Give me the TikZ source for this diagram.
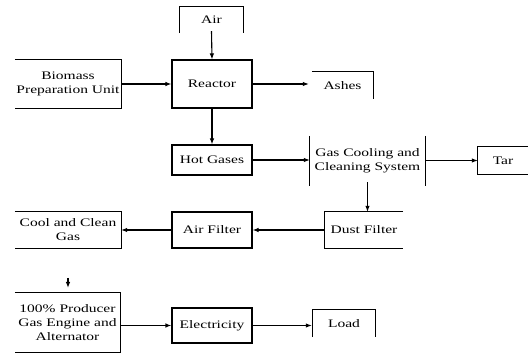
\documentclass[tikz,border=0pt]{standalone}
\usepackage{fontspec}
\setmainfont{Liberation Serif}[FakeStretch=1.35]
\usetikzlibrary{arrows.meta}
\begin{document}
\begin{tikzpicture}[x=1pt,y=-1pt,
  lbl/.style={inner sep=0pt,align=center,font=\fontsize{11.5}{14}\selectfont},
  box/.style={lbl,draw,line width=1.1pt,minimum width=#1},
  bord/.style={draw,line width=1.1pt},
  arr/.style={line width=1.1pt,-{Latex[length=6pt,width=4.5pt]}}]
\useasboundingbox (0,0) rectangle (528,358);
% full boxes
\node[box=80pt,minimum height=48pt] (reactor) at (212,84) {Reactor};
\node[box=80pt,minimum height=30pt] (hot) at (212,160) {Hot Gases};
\node[box=80pt,minimum height=36pt] (airf) at (212,230) {Air Filter};
\node[box=80pt,minimum height=35pt] (elec) at (212,325.5) {Electricity};
% partial boxes
\node[lbl,minimum width=63pt,minimum height=26pt] (air) at (211.5,20) {Air};
\draw[bord] (air.south west) -- (air.north west) -- (air.north east) -- (air.south east);
\node[lbl,minimum width=106pt,minimum height=48pt] (bio) at (68,84) {Biomass\\Preparation Unit};
\draw[bord] (bio.north west) -- (bio.north east) -- (bio.south east) -- (bio.south west);
\node[lbl,minimum width=61pt,minimum height=27pt] (ash) at (342.5,85.5) {Ashes};
\draw[bord] (ash.north west) -- (ash.north east) -- (ash.south east);
\node[lbl,minimum width=115pt,minimum height=50pt] (gcc) at (367.5,161) {Gas Cooling and\\Cleaning System};
\draw[bord] (gcc.north west) -- (gcc.south west);
\draw[bord] (gcc.north east) -- (gcc.south east);
\node[lbl,minimum width=50pt,minimum height=27pt] (tar) at (503,160.5) {Tar};
\draw[bord] (tar.north east) -- (tar.north west) -- (tar.south west) -- (tar.south east);
\node[lbl,minimum width=78pt,minimum height=36pt] (dust) at (364,230) {Dust Filter};
\draw[bord] (dust.north east) -- (dust.north west) -- (dust.south west) -- (dust.south east);
\node[lbl,minimum width=106pt,minimum height=36pt] (cool) at (68,230) {Cool and Clean\\Gas};
\draw[bord] (cool.north west) -- (cool.north east) -- (cool.south east) -- (cool.south west);
\node[lbl,minimum width=105pt,minimum height=59pt] (prod) at (67.5,322.5) {100\% Producer\\Gas Engine and\\Alternator};
\draw[bord] (prod.north west) -- (prod.north east) -- (prod.south east) -- (prod.south west);
\node[lbl,minimum width=62pt,minimum height=27pt] (load) at (344,323.5) {Load};
\draw[bord] (load.south west) -- (load.north west) -- (load.north east) -- (load.south east);
% connectors
\draw[arr] ([yshift=2pt]air.south) -- (reactor.north);
\draw[arr] (bio.east) -- (reactor.west);
\draw[arr] (reactor.east) -- ([xshift=-3pt]ash.west |- reactor.east);
\draw[arr] (reactor.south) -- (hot.north);
\draw[arr] (hot.east) -- (gcc.west |- hot.east);
\draw[arr] (gcc.east |- tar.west) -- (tar.west);
\draw[arr] ([yshift=4pt]gcc.south) -- (gcc.south |- dust.north);
\draw[arr] (dust.west) -- (airf.east);
\draw[arr] (airf.west) -- (cool.east);
\coordinate (pin) at (68,278);
\coordinate (pout) at (68,288);
\draw[arr] (pin) -- (pout);
\draw[arr] (prod.east |- elec.west) -- (elec.west);
\draw[arr] (elec.east) -- ([xshift=-1pt]load.west |- elec.east);
\end{tikzpicture}
\end{document}
